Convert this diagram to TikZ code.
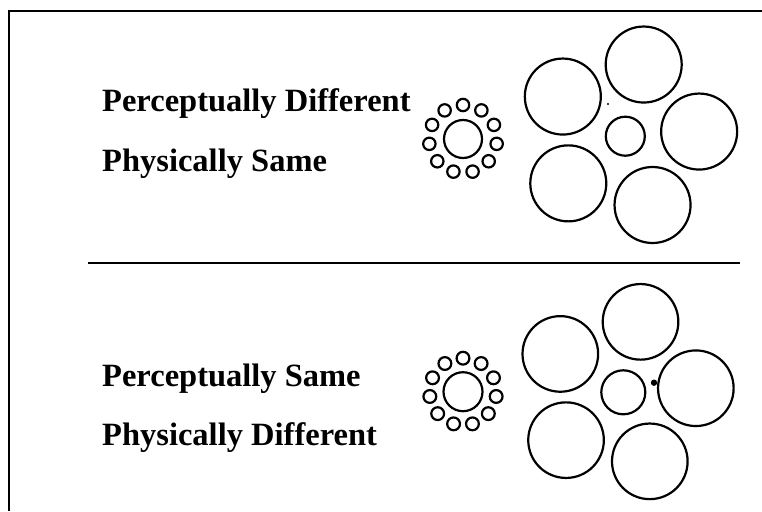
\documentclass[tikz,border=0pt]{standalone}
\usepackage{fontspec}
\setmainfont{Liberation Serif}
\usetikzlibrary{calc}
\begin{document}
\begin{tikzpicture}[x=1pt,y=-1pt,
  ring/.style={line width=2.2pt},
  frameline/.style={line width=2pt},
  label/.style={anchor=base west,inner sep=0pt,font=\fontsize{32.5}{38}\selectfont\bfseries}]
\useasboundingbox (0,0) rectangle (762,511);
% frame
\coordinate (ftr) at (762,11);
\coordinate (ftl) at (9,11);
\coordinate (fbl) at (9,511);
\draw[frameline] (ftr) -- (ftl) -- (fbl);
\coordinate (dl) at (88,263);
\coordinate (dr) at (740,263);
\draw[frameline] (dl) -- (dr);
% labels
\node[label] (t1) at (102,111.5) {Perceptually Different};
\node[label] (t2) at (102,171.5) {Physically Same};
\node[label] (b1) at (102,386) {Perceptually Same};
\node[label] (b2) at (102,445) {Physically Different};
% top small-surround cluster
\coordinate (lc1) at (463,139);
\draw[ring] (lc1) circle (19pt);
\foreach \k in {0,...,10}{
  \draw[ring] ($(lc1)+({90-\k*360/11}:34pt)$) circle (6.2pt);
}
% bottom small-surround cluster
\coordinate (lc2) at (463,391.7);
\draw[ring] (lc2) circle (19.5pt);
\foreach \k in {0,...,10}{
  \draw[ring] ($(lc2)+({90-\k*360/11}:33.5pt)$) circle (6.4pt);
}
% top large-surround cluster
\coordinate (rc1) at (625.3,136.2);
\draw[ring] (rc1) circle (19.5pt);
\foreach \k in {0,...,4}{
  \draw[ring] ($(rc1)+({3.6+\k*72}:74pt)$) circle (38pt);
}
\coordinate (dot1) at (608,104);
\fill (dot1) circle (1.1pt);
% bottom large-surround cluster
\coordinate (rc2) at (622.5,393.1);
\draw[ring] (623.3,392.3) circle (22pt);
\foreach \k in {0,...,4}{
  \draw[ring] ($(rc2)+({3.8+\k*72}:73.5pt)$) circle (37.8pt);
}
\coordinate (dot2) at (654,382.7);
\fill (dot2) circle (3.2pt);
\end{tikzpicture}
\end{document}
